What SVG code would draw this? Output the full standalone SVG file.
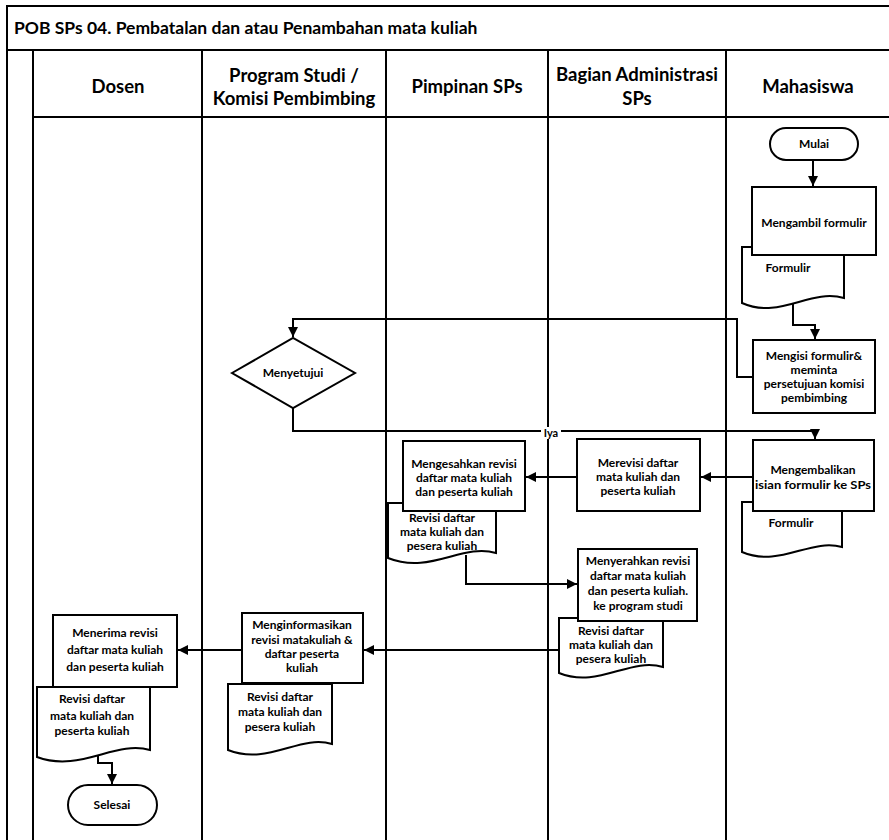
<svg xmlns="http://www.w3.org/2000/svg" width="889" height="840" viewBox="0 0 889 840">
<defs>
<style>
.frame{stroke:#000;stroke-width:2;fill:none}
.box{fill:#fff;stroke:#000;stroke-width:2}
.ln{stroke:#000;stroke-width:2;fill:none;marker-end:url(#ah)}
.t{font-family:Lato,"Liberation Sans",sans-serif;font-weight:bold;font-size:12px;text-anchor:middle;fill:#000}
.h{font-family:Lato,"Liberation Sans",sans-serif;font-weight:bold;font-size:18.5px;text-anchor:middle;fill:#000}
.ttl{font-family:Lato,"Liberation Sans",sans-serif;font-weight:bold;font-size:17.5px;fill:#000}
</style>
<marker id="ah" markerUnits="userSpaceOnUse" markerWidth="10" markerHeight="10" refX="10" refY="5" orient="auto">
<path d="M0,0 L10,5 L0,10 z" fill="#000"/>
</marker>
</defs>
<rect width="889" height="840" fill="#fff"/>
<g id="frame">
<path class="frame" d="M7,840 V6 H889"/>
<path class="frame" d="M7,50 H889"/>
<path class="frame" d="M33,50 V840"/>
<path class="frame" d="M33,117 H889"/>
<path class="frame" d="M202,50 V840 M386,50 V840 M548,50 V840 M726,50 V840"/>
<text class="ttl" x="14" y="34">POB SPs 04. Pembatalan dan atau Penambahan mata kuliah</text>
<text class="h" x="118" y="93">Dosen</text>
<text class="h" x="294" y="82">Program Studi /</text>
<text class="h" x="294" y="105">Komisi Pembimbing</text>
<text class="h" x="467" y="93">Pimpinan SPs</text>
<text class="h" x="637" y="81">Bagian Administrasi</text>
<text class="h" x="637" y="105">SPs</text>
<text class="h" x="808" y="93">Mahasiswa</text>
</g>
<g id="connectors">
<path class="ln" d="M813,160 V186"/>
<path class="ln" d="M793,300 V325 H815 V339"/>
<path class="ln" d="M753,377 H737 V319 H293 V337"/>
<path class="ln" d="M293,408 V431 H815 V439"/>
<path class="ln" d="M753,477 H701"/>
<path class="ln" d="M577,477 H526"/>
<path class="ln" d="M466,555 V584 H577"/>
<path class="ln" d="M559,650 H364"/>
<path class="ln" d="M242,650 H178"/>
<path class="ln" d="M98,752 V763 H112 V784"/>
<rect x="541" y="427" width="20" height="12" fill="#fff"/>
<text class="t" x="551" y="437" style="font-size:11px">Iya</text>
</g>
<g id="mulai">
<rect class="box" x="770" y="128" width="88" height="32" rx="16"/>
<text class="t" x="814" y="148">Mulai</text>
</g>
<g id="formulir1">
<path class="box" d="M742,247 H844 V298 C810,288 780,320 742,303 Z"/>
<text class="t" x="788" y="272">Formulir</text>
</g>
<g id="mengambil">
<rect class="box" x="752" y="187" width="124" height="68"/>
<text class="t" x="814" y="227">Mengambil formulir</text>
</g>
<g id="mengisi">
<rect class="box" x="753" y="340" width="122" height="73"/>
<text class="t" x="814" y="360">Mengisi formulir&amp;</text>
<text class="t" x="814" y="374">meminta</text>
<text class="t" x="814" y="388">persetujuan komisi</text>
<text class="t" x="814" y="402">pembimbing</text>
</g>
<g id="menyetujui">
<polygon class="box" points="232,373 293,338 355,373 293,408"/>
<text class="t" x="293" y="377">Menyetujui</text>
</g>
<g id="formulir2">
<path class="box" d="M742,502 H842 V547 C810,538 780,568 742,552 Z"/>
<text class="t" x="791" y="527">Formulir</text>
</g>
<g id="mengembalikan">
<rect class="box" x="753" y="440" width="121" height="71"/>
<text class="t" x="813" y="474">Mengembalikan</text>
<text class="t" x="813" y="489" textLength="116" lengthAdjust="spacingAndGlyphs">isian formulir ke SPs</text>
</g>
<g id="merevisi">
<rect class="box" x="577" y="439" width="123" height="72"/>
<text class="t" x="638" y="467">Merevisi daftar</text>
<text class="t" x="638" y="481">mata kuliah dan</text>
<text class="t" x="638" y="495">peserta kuliah</text>
</g>
<g id="revisi1">
<path class="box" d="M388,503 H496 V553 C462,543 430,575 388,558 Z"/>
<text class="t" x="442" y="522">Revisi daftar</text>
<text class="t" x="442" y="536">mata kuliah dan</text>
<text class="t" x="442" y="550">pesera kuliah</text>
</g>
<g id="mengesahkan">
<rect class="box" x="403" y="441" width="122" height="70"/>
<text class="t" x="464" y="468">Mengesahkan revisi</text>
<text class="t" x="464" y="482">daftar mata kuliah</text>
<text class="t" x="464" y="496">dan peserta kuliah</text>
</g>
<g id="revisi2">
<path class="box" d="M559,618 H663 V667 C630,657 598,689 559,673 Z"/>
<text class="t" x="611" y="635">Revisi daftar</text>
<text class="t" x="611" y="649">mata kuliah dan</text>
<text class="t" x="611" y="663">pesera kuliah</text>
</g>
<g id="menyerahkan">
<rect class="box" x="578" y="549" width="119" height="72"/>
<text class="t" x="638" y="565">Menyerahkan revisi</text>
<text class="t" x="638" y="580">daftar mata kuliah</text>
<text class="t" x="638" y="595">dan peserta kuliah.</text>
<text class="t" x="638" y="610">ke program studi</text>
</g>
<g id="revisi3">
<path class="box" d="M228,684 H332 V744 C300,734 268,766 228,750 Z"/>
<text class="t" x="280" y="701">Revisi daftar</text>
<text class="t" x="280" y="716">mata kuliah dan</text>
<text class="t" x="280" y="731">pesera kuliah</text>
</g>
<g id="menginformasikan">
<rect class="box" x="242" y="613" width="121" height="70"/>
<text class="t" x="302" y="629">Menginformasikan</text>
<text class="t" x="302" y="644">revisi matakuliah &amp;</text>
<text class="t" x="302" y="658">daftar peserta</text>
<text class="t" x="302" y="672">kuliah</text>
</g>
<g id="revisi4">
<path class="box" d="M37,687 H150 V750 C115,740 80,773 37,757 Z"/>
<text class="t" x="92" y="703">Revisi daftar</text>
<text class="t" x="92" y="720">mata kuliah dan</text>
<text class="t" x="92" y="735">peserta kuliah</text>
</g>
<g id="menerima">
<rect class="box" x="53" y="615" width="124" height="72"/>
<text class="t" x="115" y="637">Menerima revisi</text>
<text class="t" x="115" y="654">daftar mata kuliah</text>
<text class="t" x="115" y="671">dan peserta kuliah</text>
</g>
<g id="selesai">
<rect class="box" x="68" y="785" width="89" height="40" rx="20"/>
<text class="t" x="112" y="809">Selesai</text>
</g>
</svg>
